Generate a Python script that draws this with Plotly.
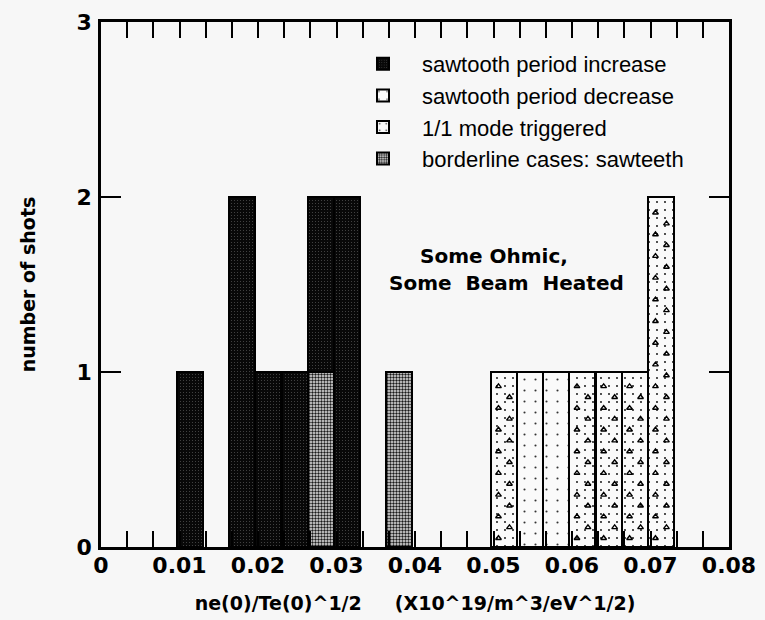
import plotly.graph_objects as go

# ---- data ----
BIN_WIDTH = 0.00333

inc_x = [0.0113, 0.0180, 0.0213, 0.0247, 0.0280, 0.0313]
inc_y = [1, 2, 1, 1, 1, 2]

dec_x = [0.0547, 0.0580]
dec_y = [1, 1]

mode_x = [0.0513, 0.0613, 0.0647, 0.0680, 0.0713]
mode_y = [1, 1, 1, 1, 2]

border_x = [0.0280, 0.0380]
border_y = [1, 1]

x_ticks = [0, 0.01, 0.02, 0.03, 0.04, 0.05, 0.06, 0.07, 0.08]
x_tick_text = ["0", "0.01", "0.02", "0.03", "0.04", "0.05", "0.06", "0.07", "0.08"]
y_ticks = [0, 1, 2, 3]

names = ["sawtooth period increase", "sawtooth period decrease",
         "1/1 mode triggered", "borderline cases: sawteeth"]

BOLD = "DejaVu Sans"
REG = "Liberation Sans, Arial, sans-serif"
BG = "#f7f7f7"

fig = go.Figure()

line = dict(color="black", width=2)

# borderline first so it sits at the bottom of the stack
fig.add_trace(go.Bar(
    x=border_x, y=border_y, width=[BIN_WIDTH] * len(border_x), name=names[3],
    legendrank=4,
    marker=dict(color="#bbbbbb", line=line,
                pattern=dict(shape=".", fgcolor="#1a1a1a", bgcolor="#e8e8e8",
                             size=3, solidity=0.5, fillmode="replace")),
    hoverinfo="skip"))

fig.add_trace(go.Bar(
    x=inc_x, y=inc_y, width=[BIN_WIDTH] * len(inc_x), name=names[0],
    legendrank=1,
    marker=dict(color="#111111", line=line,
                pattern=dict(shape=".", fgcolor="#6a6a6a", bgcolor="#080808",
                             size=3, solidity=0.08, fillmode="replace")),
    hoverinfo="skip"))

fig.add_trace(go.Bar(
    x=dec_x, y=dec_y, width=[BIN_WIDTH] * len(dec_x), name=names[1],
    legendrank=2,
    marker=dict(color="#fafafa", line=line,
                pattern=dict(shape=".", fgcolor="#333333", bgcolor="#fafafa",
                             size=11, solidity=0.03, fillmode="replace")),
    hoverinfo="skip"))

fig.add_trace(go.Bar(
    x=mode_x, y=mode_y, width=[BIN_WIDTH] * len(mode_x), name=names[2],
    legendrank=3,
    marker=dict(color="#fafafa", line=line,
                pattern=dict(shape=".", fgcolor="#000000", bgcolor="#fafafa",
                             size=8, solidity=0.04, fillmode="replace")),
    hoverinfo="skip"))

# caret fill pattern for the 1/1 mode bars, derived from the bar data
cx, cy = [], []
step = 0.062
for xc, yv in zip(mode_x, mode_y):
    r = 0
    yy = 0.05
    while yy < yv - 0.04:
        off = -0.2 if r % 2 == 0 else 0.22
        cx.append(xc + off * BIN_WIDTH)
        cy.append(yy)
        yy += step
        r += 1
fig.add_trace(go.Scatter(
    x=cx, y=cy, mode="markers",
    marker=dict(symbol="triangle-up-open", size=5, color="black",
                line=dict(color="black", width=1.4)),
    showlegend=False, hoverinfo="skip"))

fig.add_annotation(x=0.0501, y=1.665, text="<b>Some Ohmic,</b>", showarrow=False,
                   font=dict(family=BOLD, size=20, color="black"))
fig.add_annotation(x=0.0517, y=1.51,
                   text="<b>Some\u00a0\u00a0Beam\u00a0\u00a0Heated</b>", showarrow=False,
                   font=dict(family=BOLD, size=20, color="black"))

L, R, T, B = 101, 36, 22, 73
W, H = 765, 620
pw, ph = W - L - R, H - T - B

fig.update_layout(
    width=W, height=H,
    margin=dict(l=L, r=R, t=T, b=B, pad=0),
    paper_bgcolor=BG, plot_bgcolor=BG,
    barmode="stack", bargap=0,
    showlegend=True,
    legend=dict(x=(344 - L) / pw, y=(H - B - 43) / ph, xanchor="left", yanchor="top",
                bgcolor="rgba(0,0,0,0)", borderwidth=0,
                font=dict(family=REG, size=22, color="black"),
                itemwidth=68, tracegroupgap=0, traceorder="normal"),
    font=dict(family=BOLD, color="black"),
)

fig.update_xaxes(
    range=[0, 0.08], tickvals=x_ticks, ticktext=x_tick_text,
    ticks="inside", ticklen=16, tickwidth=1.5, tickcolor="black",
    minor=dict(dtick=0.08 / 24, tick0=0, ticks="inside", ticklen=16,
               tickwidth=1.5, tickcolor="black"),
    showline=True, linewidth=2.5, linecolor="black", mirror="ticks",
    showgrid=False, zeroline=False, automargin=False,
    tickfont=dict(family=BOLD, size=22, color="black", weight="bold"),
    ticklabelstandoff=-3,
    title=dict(text="<b>ne(0)/Te(0)^1/2\u00a0\u00a0\u00a0\u00a0\u00a0(X10^19/m^3/eV^1/2)</b>",
               font=dict(family=BOLD, size=19, color="black"), standoff=20),
)
fig.update_yaxes(
    range=[0, 3], tickvals=y_ticks,
    ticks="inside", ticklen=20, tickwidth=1.5, tickcolor="black",
    showline=True, linewidth=2.5, linecolor="black", mirror="ticks",
    showgrid=False, zeroline=False, automargin=False,
    tickfont=dict(family=BOLD, size=22, color="black", weight="bold"),
    ticklabelstandoff=2,
    title=dict(text="<b>number of shots</b>",
               font=dict(family=BOLD, size=19, color="black"), standoff=36),
)

fig.write_html("out.html")
